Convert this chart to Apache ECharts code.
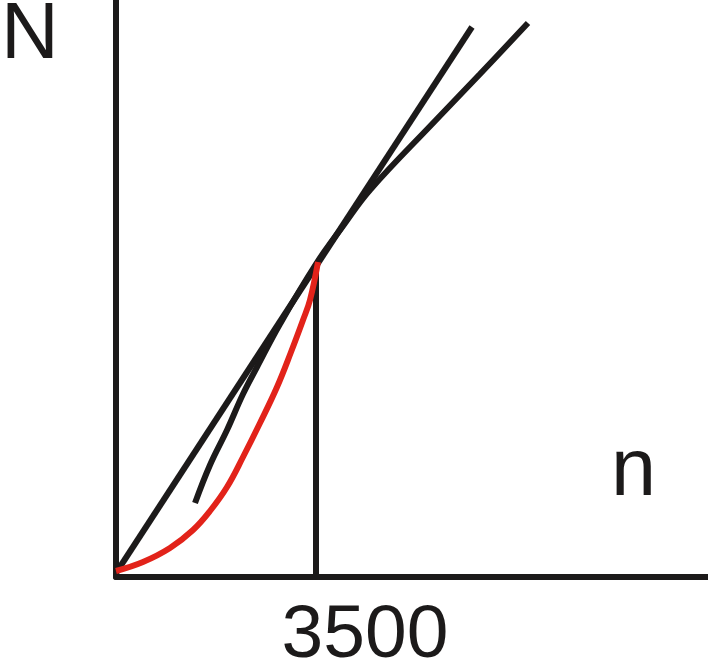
<!DOCTYPE html>
<html>
<head>
<meta charset="utf-8">
<style>html,body{margin:0;padding:0;background:#fff;}#c{width:708px;height:663px;}</style>
<script src="https://cdn.jsdelivr.net/npm/echarts@6/dist/echarts.min.js"></script>
</head>
<body>
<div id="c"></div>
<script>
// Data (n in rpm-like units, N in arbitrary units)
const tickValues = [3500];
const tickLabels = ['3500'];
const tangentLine = [[0, 4], [6230, 550]];
const powerCurve = [[1383, 74], [1645, 112], [1943, 147], [2223, 183], [2468, 210], [2870, 253], [3500, 313], [3973, 351], [4445, 387], [5583, 456], [6370, 503], [7210, 554]];
const redCurve = [[0, 6], [472, 15], [945, 29], [1348, 47], [1645, 66], [1943, 90], [2223, 120], [2520, 154], [2818, 190], [3063, 225], [3273, 257], [3395, 277], [3535, 315]];
const markerLine = [[3500, 0], [3500, 313]];
const yName = 'N';
const xName = 'n';

const black = '#1c1a1a';
const red = '#e2231a';
const chart = echarts.init(document.getElementById('c'));
chart.setOption({
  animation: false,
  backgroundColor: '#ffffff',
  grid: {left: 116, right: 0, top: 0, bottom: 86, containLabel: false, outerBoundsMode: 'none'},
  xAxis: {
    type: 'value', min: 0, max: 10360,
    axisLine: {show: true, onZero: false, lineStyle: {color: black, width: 6}},
    axisTick: {show: false},
    splitLine: {show: false},
    axisLabel: {
      customValues: tickValues,
      formatter: v => tickLabels[tickValues.indexOf(v)] || '',
      color: black, fontFamily: 'Liberation Sans', fontSize: 75,
      margin: 22, align: 'center', padding: [0, 0, 0, 98]
    }
  },
  yAxis: {
    type: 'value', min: 0, max: 577,
    axisLine: {show: true, onZero: false, lineStyle: {color: black, width: 6}},
    axisTick: {show: false},
    splitLine: {show: false},
    axisLabel: {show: false}
  },
  graphic: [
    {type: 'text', left: 1, top: -4, style: {text: yName, fontFamily: 'Liberation Sans', fontSize: 80, fill: black}},
    {type: 'text', left: 611, top: 432, style: {text: xName, fontFamily: 'Liberation Sans', fontSize: 81, fill: black}}
  ],
  series: [
    {type: 'line', data: markerLine, showSymbol: false, lineStyle: {color: black, width: 6}},
    {type: 'line', data: tangentLine, showSymbol: false, lineStyle: {color: black, width: 6}},
    {type: 'line', data: powerCurve, smooth: 0.4, showSymbol: false, lineStyle: {color: black, width: 6}},
    {type: 'line', data: redCurve, smooth: 0.4, showSymbol: false, lineStyle: {color: red, width: 6}}
  ]
});
</script>
</body>
</html>
